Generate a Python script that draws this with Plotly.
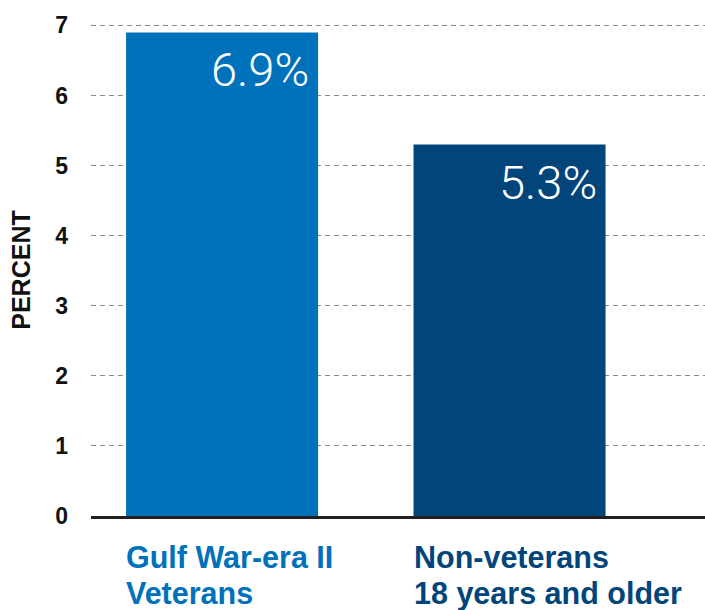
import plotly.graph_objects as go

categories = ["Gulf War-era II Veterans", "Non-veterans 18 years and older"]
label_lines = [["Gulf War-era II", "Veterans"], ["Non-veterans", "18 years and older"]]
values = [6.9, 5.3]
value_labels = ["6.9%", "5.3%"]
bar_colors = ["#0071BB", "#02457B"]
y_ticks = [0, 1, 2, 3, 4, 5, 6, 7]

FONT = "Liberation Sans, Arial, sans-serif"

fig = go.Figure()
fig.add_trace(go.Bar(
    x=categories, y=values, width=0.668,
    marker=dict(color=bar_colors, line=dict(width=0)),
    hoverinfo="skip", showlegend=False,
))

annotations = []
for cat, val, lab in zip(categories, values, value_labels):
    annotations.append(dict(
        x=cat, y=val, xref="x", yref="y", text=lab, showarrow=False,
        xanchor="right", yanchor="top", xshift=89, yshift=-8,
        font=dict(family="Roboto", size=47, color="white", weight=300),
    ))
for cat, lines, col in zip(categories, label_lines, bar_colors):
    for i, line in enumerate(lines):
        annotations.append(dict(
            x=cat, y=0, xref="x", yref="paper", text="<b>%s</b>" % line,
            showarrow=False, xanchor="left", yanchor="top",
            xshift=-98, yshift=-22 - 36 * i,
            font=dict(family=FONT, size=30.5, color=col),
        ))

fig.update_layout(
    width=705, height=610,
    margin=dict(l=91, r=0, t=24, b=94, autoexpand=False),
    plot_bgcolor="white", paper_bgcolor="white",
    annotations=annotations,
    xaxis=dict(
        range=[-0.456, 1.68], showticklabels=False, showgrid=False,
        showline=True, linecolor="#231f20", linewidth=3, ticks="",
        fixedrange=True, automargin=False,
    ),
    yaxis=dict(
        range=[0, 7.02], tickvals=y_ticks, ticktext=["<b>%d</b>" % t for t in y_ticks],
        showgrid=True, gridcolor="#8a8a8a", gridwidth=1, griddash="5px,4px",
        zeroline=False, showline=False, ticks="",
        ticklabelstandoff=22, automargin=False, fixedrange=True,
        tickfont=dict(family=FONT, size=23, color="#111"),
        title=dict(text="<b>PERCENT</b>", standoff=17,
                   font=dict(family=FONT, size=25, color="#111")),
    ),
)

fig.write_html(
    "out.html",
    config={"displayModeBar": False},
    post_script="document.body.style.margin='0px';document.body.style.overflow='hidden';",
)
